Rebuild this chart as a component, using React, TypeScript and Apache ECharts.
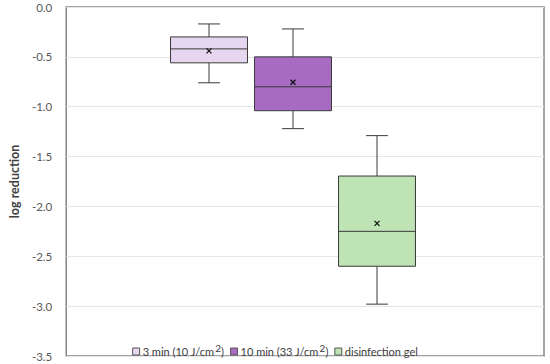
import React, { useEffect, useRef } from "react";
import * as echarts from "echarts";

const seriesNames = ["3 min (10 J/cm2)", "10 min (33 J/cm2)", "disinfection gel"];
const legendRich = [
  "{a|3 min (10 J/cm}{sup|2}{a|)}",
  "{a|10 min (33 J/cm}{sup|2}{a|)}",
  "{a|disinfection gel}",
];
// [min, q1, median, q3, max, mean]
const box3min = [-0.76, -0.56, -0.42, -0.30, -0.17, -0.44];
const box10min = [-1.22, -1.04, -0.80, -0.50, -0.22, -0.755];
const boxGel = [-2.98, -2.60, -2.25, -1.695, -1.29, -2.17];
const boxes = [box3min, box10min, boxGel];
const fills = ["#E7D6EF", "#A86BC2", "#BEE3B4"];
const yTicks = { min: -3.5, max: 0, interval: 0.5 };

const FONT = "Lato, 'Liberation Sans', sans-serif";

export default function App() {
  const ref = useRef<HTMLDivElement>(null);
  useEffect(() => {
    if (!ref.current) return;
    const chart = echarts.init(ref.current, undefined, { renderer: "svg" });

    const renderItem = (params: any, api: any) => {
      const x = api.value(0);
      const pMin = api.coord([x, api.value(1)]);
      const pQ1 = api.coord([x, api.value(2)]);
      const pMed = api.coord([x, api.value(3)]);
      const pQ3 = api.coord([x, api.value(4)]);
      const pMax = api.coord([x, api.value(5)]);
      const pMean = api.coord([x, api.value(6)]);
      const band = api.size([1, 0])[0];
      const hw = band * 0.458;
      const cap = band * 0.13;
      const cx = pMed[0];
      const stroke = { stroke: "#3a3a3a", lineWidth: 1 };
      const m = 2.5;
      return {
        type: "group",
        children: [
          { type: "line", shape: { x1: cx, y1: pMax[1], x2: cx, y2: pQ3[1] }, style: stroke },
          { type: "line", shape: { x1: cx, y1: pQ1[1], x2: cx, y2: pMin[1] }, style: stroke },
          { type: "line", shape: { x1: cx - cap, y1: pMax[1], x2: cx + cap, y2: pMax[1] }, style: stroke },
          { type: "line", shape: { x1: cx - cap, y1: pMin[1], x2: cx + cap, y2: pMin[1] }, style: stroke },
          {
            type: "rect",
            shape: { x: cx - hw, y: pQ3[1], width: hw * 2, height: pQ1[1] - pQ3[1] },
            style: { fill: api.visual("color"), stroke: "#3a3a3a", lineWidth: 1 },
          },
          { type: "line", shape: { x1: cx - hw, y1: pMed[1], x2: cx + hw, y2: pMed[1] }, style: stroke },
          { type: "line", shape: { x1: pMean[0] - m, y1: pMean[1] - m, x2: pMean[0] + m, y2: pMean[1] + m }, style: { stroke: "#111", lineWidth: 1.2 } },
          { type: "line", shape: { x1: pMean[0] - m, y1: pMean[1] + m, x2: pMean[0] + m, y2: pMean[1] - m }, style: { stroke: "#111", lineWidth: 1.2 } },
        ],
      };
    };

    const option: any = {
      animation: false,
      textStyle: { fontFamily: FONT },
      grid: [
        { left: 46, right: 6, top: 7, bottom: 8, show: true, borderColor: "#858585", borderWidth: 1.5, backgroundColor: "transparent" },
        { left: 167, width: 252, top: 7, bottom: 8 },
      ],
      xAxis: [
        { type: "value", gridIndex: 0, min: 0, max: 1, show: false },
        { type: "category", gridIndex: 1, data: seriesNames, show: false },
      ],
      yAxis: [
        {
          type: "value",
          gridIndex: 0,
          min: yTicks.min,
          max: yTicks.max,
          interval: yTicks.interval,
          axisLine: { show: false },
          axisTick: { show: false },
          axisLabel: { color: "#595959", fontSize: 11.5, fontFamily: FONT, margin: 14, formatter: (v: number) => v.toFixed(1) },
          splitLine: { lineStyle: { color: "#e6e6e6", width: 1 } },
          name: "log reduction",
          nameLocation: "middle",
          nameRotate: 90,
          nameGap: 33,
          nameTextStyle: { color: "#404040", fontSize: 12.5, fontWeight: "bold", fontFamily: FONT },
        },
        { type: "value", gridIndex: 1, min: yTicks.min, max: yTicks.max, show: false },
      ],
      legend: {
        left: "center",
        top: 338,
        itemWidth: 7,
        itemHeight: 7,
        itemGap: 6,
        icon: "rect",
        data: seriesNames.map((n, i) => ({ name: n, itemStyle: { color: fills[i], borderColor: "#555", borderWidth: 1 } })),
        formatter: (name: string) => legendRich[seriesNames.indexOf(name)],
        textStyle: {
          color: "#404040",
          fontSize: 11,
          fontFamily: FONT,
          padding: [0, 0, 0, -2],
          rich: {
            a: { fontSize: 11, color: "#404040", fontFamily: FONT },
            sup: { fontSize: 10, color: "#404040", fontFamily: FONT, verticalAlign: "top", padding: [0, 0, 7, 1] },
          },
        },
      },
      series: boxes.map((b, i) => ({
        name: seriesNames[i],
        type: "custom",
        xAxisIndex: 1,
        yAxisIndex: 1,
        renderItem,
        itemStyle: { color: fills[i] },
        encode: { x: 0, y: [1, 2, 3, 4, 5] },
        data: [[i, ...b]],
      })),
    };
    chart.setOption(option);
    return () => chart.dispose();
  }, []);
  return <div ref={ref} style={{ width: 550, height: 364, position: "absolute", left: 0, top: 0 }} />;
}
